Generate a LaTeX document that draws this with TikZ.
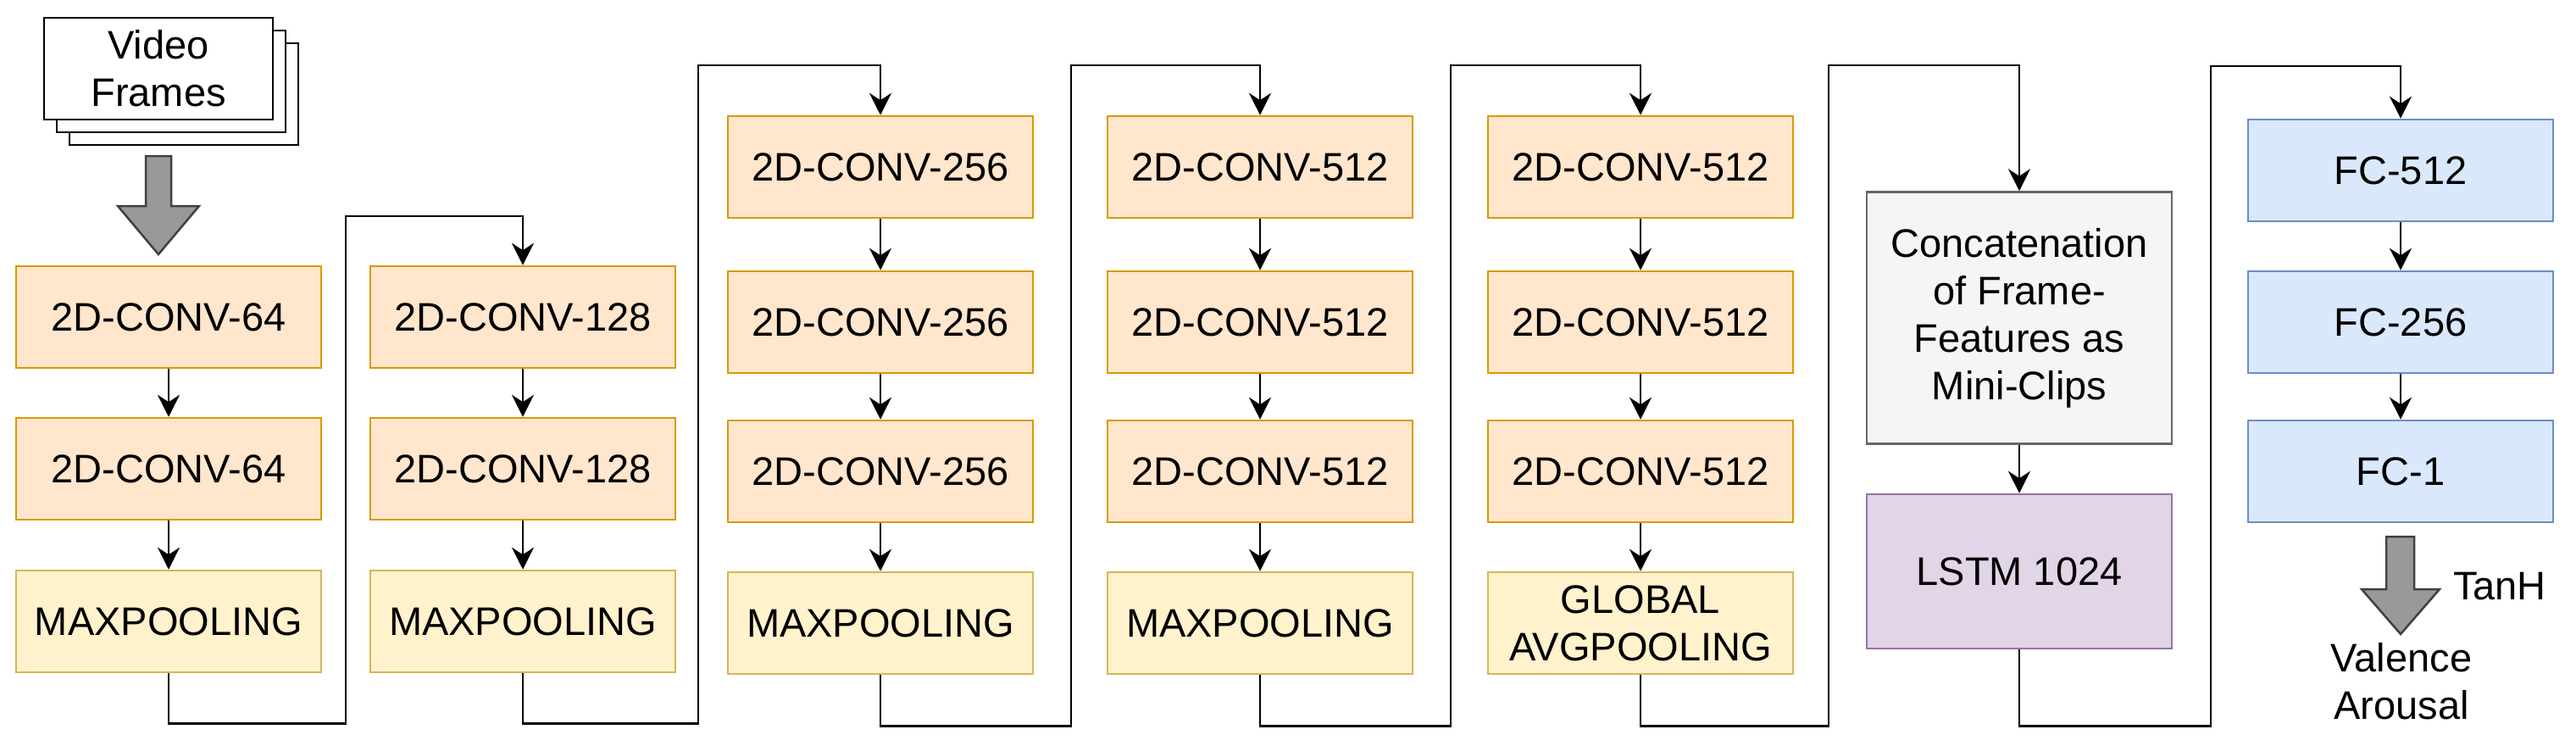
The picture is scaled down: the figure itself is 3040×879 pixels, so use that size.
\documentclass[tikz,border=0pt]{standalone}
\usepackage{fontspec}
\setmainfont{Liberation Sans}
\usetikzlibrary{arrows.meta,positioning}
\definecolor{convfill}{HTML}{FFE6CC}\definecolor{convdraw}{HTML}{D79B00}
\definecolor{poolfill}{HTML}{FFF2CC}\definecolor{pooldraw}{HTML}{D6B656}
\definecolor{catfill}{HTML}{F5F5F5}\definecolor{catdraw}{HTML}{666666}
\definecolor{lstmfill}{HTML}{E1D5E7}\definecolor{lstmdraw}{HTML}{9673A6}
\definecolor{fcfill}{HTML}{DAE8FC}\definecolor{fcdraw}{HTML}{6C8EBF}
\tikzset{
  blk/.style={draw,line width=2.5pt,minimum width=360pt,minimum height=120pt,inner sep=0pt,align=center,
    font=\fontsize{47}{56}\selectfont},
  conv/.style={blk,fill=convfill,draw=convdraw},
  pool/.style={blk,fill=poolfill,draw=pooldraw},
  fc/.style={blk,fill=fcfill,draw=fcdraw},
  link/.style={line width=2.8pt,-{Stealth[length=26pt,width=26pt]}},
  bigarrow/.style={fill=black!40,draw=black!75,line width=2.5pt},
}
\begin{document}
\begin{tikzpicture}[x=1pt,y=-1pt,line join=miter]
\useasboundingbox (0,0) rectangle (3040,879);
  % Input frames
  \draw[line width=2.5pt,fill=white] (82,51) rectangle (352,171);
  \draw[line width=2.5pt,fill=white] (67,36) rectangle (337,156);
  \node[blk,draw=black,fill=white,minimum width=270pt] (frames) at (187,81) {Video\\Frames};
  \draw[bigarrow] (172,184) -- (202,184) -- (202,243) -- (235,243) -- (187,300) -- (139,243) -- (172,243) -- cycle;
  % Block 1
  \node[conv] (c11) at (199,374) {2D-CONV-64};
  \node[conv] (c12) at (199,553) {2D-CONV-64};
  \node[pool] (p1) at (199,733) {MAXPOOLING};
  % Block 2
  \node[conv] (c21) at (617,374) {2D-CONV-128};
  \node[conv] (c22) at (617,553) {2D-CONV-128};
  \node[pool] (p2) at (617,733) {MAXPOOLING};
  % Block 3
  \node[conv] (c31) at (1039,197) {2D-CONV-256};
  \node[conv] (c32) at (1039,380) {2D-CONV-256};
  \node[conv] (c33) at (1039,556) {2D-CONV-256};
  \node[pool] (p3) at (1039,735) {MAXPOOLING};
  % Block 4
  \node[conv] (c41) at (1487,197) {2D-CONV-512};
  \node[conv] (c42) at (1487,380) {2D-CONV-512};
  \node[conv] (c43) at (1487,556) {2D-CONV-512};
  \node[pool] (p4) at (1487,735) {MAXPOOLING};
  % Block 5
  \node[conv] (c51) at (1936,197) {2D-CONV-512};
  \node[conv] (c52) at (1936,380) {2D-CONV-512};
  \node[conv] (c53) at (1936,556) {2D-CONV-512};
  \node[pool] (p5) at (1936,735) {GLOBAL\\AVGPOOLING};
  % Temporal part
  \node[blk,fill=catfill,draw=catdraw,minimum height=297pt] (cat) at (2383,375) {Concatenation\\of Frame-\\Features as\\Mini-Clips};
  \node[blk,fill=lstmfill,draw=lstmdraw,minimum height=182pt] (lstm) at (2383,674) {LSTM 1024};
  % Head
  \node[fc] (f1) at (2833,201) {FC-512};
  \node[fc] (f2) at (2833,380) {FC-256};
  \node[fc] (f3) at (2833,556) {FC-1};
  \draw[bigarrow] (2816,633) -- (2849,633) -- (2849,695) -- (2879,695) -- (2833,748) -- (2787,695) -- (2816,695) -- cycle;
  \node[font=\fontsize{47}{56}\selectfont] (tanh) at (2950,692) {TanH};
  \node[font=\fontsize{47}{56}\selectfont,align=center] (out) at (2834,804) {Valence\\Arousal};
  % Links inside blocks
  \foreach \a/\b in {c11/c12,c12/p1,c21/c22,c22/p2,c31/c32,c32/c33,c33/p3,c41/c42,c42/c43,c43/p4,
                     c51/c52,c52/c53,c53/p5,cat/lstm,f1/f2,f2/f3}
    \draw[link] (\a) -- (\b);
  % Links between blocks
  \draw[link] (p1.south) -- ++(0,59) -| (408,255) -| (c21.north);
  \draw[link] (p2.south) -- ++(0,59) -| (824,77) -| (c31.north);
  \draw[link] (p3.south) -- ++(0,60) -| (1264,77) -| (c41.north);
  \draw[link] (p4.south) -- ++(0,60) -| (1712,77) -| (c51.north);
  \draw[link] (p5.south) -- ++(0,60) -| (2158,77) -| (cat.north);
  \draw[link] (lstm.south) -- ++(0,90) -| (2609,78) -| (f1.north);
\end{tikzpicture}
\end{document}
